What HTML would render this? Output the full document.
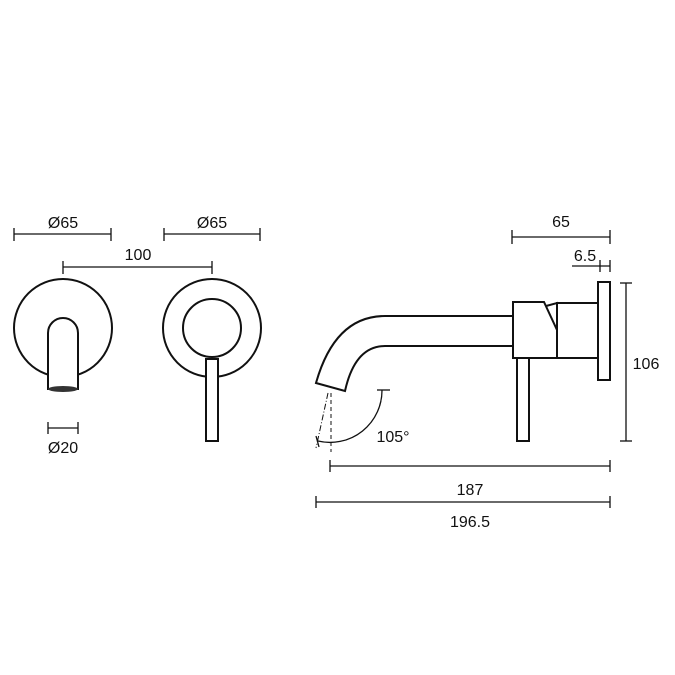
<!DOCTYPE html>
<html><head><style>
html,body{margin:0;padding:0;background:#fff;}
svg{display:block;}
text{font-family:"Liberation Sans",Arial,sans-serif;font-size:16px;fill:#111;}
</style></head><body>
<svg width="675" height="675" viewBox="0 0 675 675" xmlns="http://www.w3.org/2000/svg">
<g stroke="#111" stroke-width="1.3" fill="none">
<line x1="14" y1="234" x2="111" y2="234"/><line x1="14" y1="228" x2="14" y2="241"/><line x1="111" y1="228" x2="111" y2="241"/>
<line x1="164" y1="234" x2="260" y2="234"/><line x1="164" y1="228" x2="164" y2="241"/><line x1="260" y1="228" x2="260" y2="241"/>
<line x1="63" y1="267" x2="212" y2="267"/><line x1="63" y1="261" x2="63" y2="274"/><line x1="212" y1="261" x2="212" y2="274"/>
<line x1="48" y1="428" x2="78" y2="428"/><line x1="48" y1="422" x2="48" y2="434"/><line x1="78" y1="422" x2="78" y2="434"/>
</g>
<g stroke="#111" stroke-width="2" fill="#fff">
<circle cx="63" cy="328" r="49"/>
<path d="M48 390 L48 333 A15 15 0 0 1 78 333 L78 390"/>
<circle cx="212" cy="328" r="49"/>
<circle cx="212" cy="328" r="29"/>
<rect x="206" y="359" width="12" height="82"/>
</g>
<ellipse cx="63" cy="389" rx="15" ry="3" fill="#333"/>
<text x="63" y="228" text-anchor="middle">Ø65</text>
<text x="212" y="228" text-anchor="middle">Ø65</text>
<text x="138" y="260" text-anchor="middle">100</text>
<text x="63" y="453" text-anchor="middle">Ø20</text>
<g stroke="#111" stroke-width="2" fill="#fff">
<path d="M514 316 L385 316 Q335 316 316 383 L345 391 Q355 346 385 346 L514 346"/>
<rect x="598" y="282" width="12" height="98"/>
<rect x="557" y="303" width="41" height="55"/>
<path d="M546 306 L557 303 L557 358 L546 358Z"/>
<path d="M513 302 L544 302 L557 330 L557 358 L513 358Z"/>
<rect x="517" y="358" width="12" height="83"/>
</g>
<g stroke="#111" stroke-width="1.3" fill="none">
<line x1="512" y1="237" x2="610" y2="237"/><line x1="512" y1="230" x2="512" y2="244"/><line x1="610" y1="230" x2="610" y2="244"/>
<line x1="572" y1="266" x2="610" y2="266"/><line x1="600" y1="260" x2="600" y2="272"/><line x1="610" y1="260" x2="610" y2="272"/>
<line x1="626" y1="283" x2="626" y2="441"/><line x1="620" y1="283" x2="632" y2="283"/><line x1="620" y1="441" x2="632" y2="441"/>
<line x1="330" y1="466" x2="610" y2="466"/><line x1="330" y1="460" x2="330" y2="472"/><line x1="610" y1="460" x2="610" y2="472"/>
<line x1="316" y1="502" x2="610" y2="502"/><line x1="316" y1="496" x2="316" y2="508"/><line x1="610" y1="496" x2="610" y2="508"/>
<line x1="377" y1="390" x2="390" y2="390"/>
<path d="M382 390 A52 52 0 0 1 318 441"/>
<line x1="316" y1="436" x2="319" y2="447"/>
<line x1="331" y1="393" x2="331" y2="452" stroke-dasharray="4 3" stroke-width="1"/>
<line x1="328" y1="393" x2="316" y2="448" stroke-dasharray="6 2 1 2" stroke-width="1"/>
</g>
<text x="561" y="227" text-anchor="middle">65</text>
<text x="585" y="261" text-anchor="middle">6.5</text>
<text x="646" y="369" text-anchor="middle">106</text>
<text x="393" y="442" text-anchor="middle">105°</text>
<text x="470" y="495" text-anchor="middle">187</text>
<text x="470" y="527" text-anchor="middle">196.5</text>
</svg>
</body></html>
